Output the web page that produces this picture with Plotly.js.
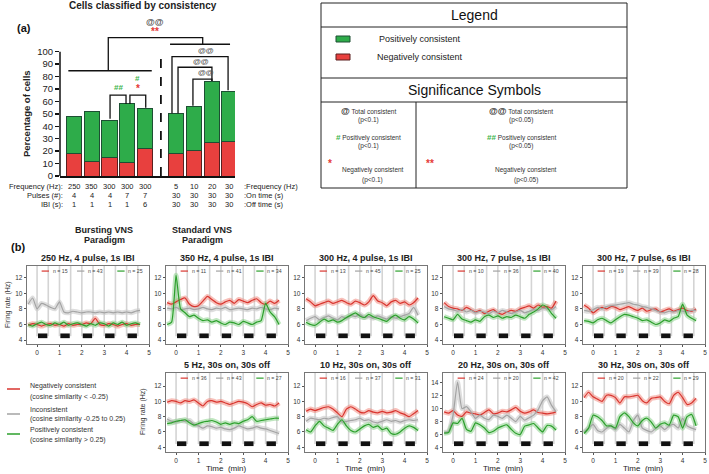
<!DOCTYPE html>
<html>
<head>
<meta charset="utf-8">
<script src="https://cdn.plot.ly/plotly-3.0.1.min.js"></script>
<style>
  body { margin: 0; background: #fff; }
  #chart { width: 709px; height: 474px; }
</style>
</head>
<body>
<div id="chart"></div>
<script>
const W = 709, H = 474;
const FONT = "Liberation Sans, Arial, sans-serif";

// ---- panel (a): cells classified by consistency ----
const freqHz = [250, 350, 300, 300, 300, 5, 10, 20, 30];
const pulsesOn = [4, 4, 4, 7, 7, 30, 30, 30, 30];
const ibiOff = [1, 1, 1, 1, 6, 30, 30, 30, 30];
const negPct = [18, 12, 15, 11, 22, 18.5, 20.5, 27, 28];
const posPct = [30, 40, 30, 47, 32, 31.5, 35.5, 49, 40];

// ---- panel (b): firing rate traces ----
const timeMin = [-0.4, -0.2, 0, 0.2, 0.4, 0.6, 0.8, 1.0, 1.2, 1.4, 1.6, 1.8, 2.0, 2.2, 2.4, 2.6, 2.8, 3.0, 3.2, 3.4, 3.6, 3.8, 4.0, 4.2, 4.4, 4.6];
const stimOn = [0, 1, 2, 3, 4];
const stimOff = [0.5, 1.5, 2.5, 3.5, 4.5];
const tickMin = [0, 1, 2, 3, 4, 5];

const panelTitles = ["250 Hz, 4 pulse, 1s IBI", "350 Hz, 4 pulse, 1s IBI", "300 Hz, 4 pulse, 1s IBI",
  "300 Hz, 7 pulse, 1s IBI", "300 Hz, 7 pulse, 6s IBI", "5 Hz, 30s on, 30s off",
  "10 Hz, 30s on, 30s off", "20 Hz, 30s on, 30s off", "30 Hz, 30s on, 30s off"];
const nNeg = [15, 11, 13, 10, 19, 36, 16, 24, 20];
const nInc = [43, 41, 45, 36, 39, 43, 37, 20, 22];
const nPos = [25, 34, 25, 40, 28, 27, 31, 42, 29];

const neg250 = [5.9, 6.1, 6.0, 5.8, 6.0, 6.1, 5.9, 6.0, 5.8, 6.1, 5.9, 6.0, 6.0, 6.2, 6.1, 6.8, 6.0, 5.9, 6.1, 6.0, 5.8, 6.0, 6.1, 5.9, 6.0, 6.0];
const inc250 = [8.6, 9.4, 8.0, 8.7, 8.5, 8.2, 8.0, 8.9, 7.6, 7.5, 7.7, 7.6, 7.5, 7.6, 7.6, 7.5, 7.6, 7.5, 7.6, 7.5, 7.6, 7.5, 7.6, 7.5, 7.7, 7.8];
const pos250 = [6.0, 5.8, 6.1, 6.3, 6.0, 5.9, 6.2, 6.0, 6.3, 5.9, 6.1, 6.2, 6.0, 5.8, 6.1, 5.9, 6.2, 6.1, 5.8, 6.2, 6.0, 6.3, 5.9, 6.1, 6.2, 6.0];

const neg350 = [8.8, 8.6, 8.9, 9.2, 9.4, 8.6, 8.3, 8.4, 9.0, 9.6, 9.2, 8.8, 8.6, 8.9, 9.1, 8.7, 9.2, 9.0, 8.8, 9.1, 9.3, 8.8, 8.6, 9.0, 8.7, 9.1];
const inc350 = [8.1, 8.0, 8.2, 7.9, 8.0, 8.1, 7.9, 8.0, 8.2, 8.0, 7.9, 8.1, 8.0, 8.2, 7.9, 8.0, 8.1, 8.0, 7.9, 8.1, 8.0, 8.2, 8.0, 7.9, 8.1, 8.0];
const pos350 = [6.0, 6.3, 12.3, 8.0, 7.5, 7.0, 7.2, 6.8, 6.5, 6.6, 6.3, 6.5, 6.2, 6.0, 6.3, 6.2, 6.0, 6.4, 6.2, 6.0, 6.3, 6.5, 8.7, 7.6, 7.0, 6.0];

const neg300a = [9.3, 8.9, 8.4, 8.6, 8.8, 9.0, 8.7, 8.9, 9.1, 8.8, 8.6, 9.0, 8.8, 8.5, 8.9, 9.7, 9.0, 8.8, 8.4, 8.9, 9.1, 8.7, 8.9, 8.5, 8.8, 9.4];
const inc300a = [6.5, 6.8, 7.0, 6.6, 6.9, 7.1, 6.8, 6.6, 7.0, 6.8, 7.2, 7.0, 7.3, 6.9, 7.0, 6.8, 7.1, 6.9, 6.7, 7.0, 6.8, 7.0, 7.2, 7.4, 8.2, 7.2];
const pos300a = [6.3, 6.0, 5.9, 6.3, 6.7, 6.4, 6.6, 6.3, 6.5, 6.9, 7.2, 7.5, 7.1, 6.9, 7.3, 7.0, 6.8, 6.6, 6.4, 6.9, 7.2, 6.8, 6.6, 7.0, 6.7, 6.2];

const neg300b = [8.8, 8.3, 8.1, 8.0, 7.8, 8.2, 7.9, 7.6, 7.8, 7.4, 7.7, 7.9, 7.5, 7.3, 7.6, 7.8, 7.7, 8.0, 8.2, 8.4, 8.1, 8.5, 8.2, 8.3, 8.1, 9.0];
const inc300b = [8.3, 8.0, 7.9, 7.7, 7.9, 7.6, 7.8, 7.5, 7.7, 7.6, 7.4, 7.7, 7.5, 7.8, 7.6, 7.4, 7.6, 7.8, 7.5, 7.7, 7.9, 7.8, 8.1, 8.0, 7.9, 8.3];
const pos300b = [7.0, 6.8, 6.6, 7.3, 6.7, 6.5, 6.3, 6.6, 6.4, 7.0, 7.2, 6.9, 7.1, 6.8, 7.0, 6.9, 7.2, 7.0, 6.8, 7.3, 7.6, 8.0, 8.5, 8.2, 7.4, 6.8];

const neg300c = [8.5, 8.1, 7.5, 7.9, 8.2, 8.0, 8.3, 8.2, 7.9, 8.1, 8.3, 8.0, 7.8, 8.1, 7.7, 7.9, 8.0, 7.6, 7.8, 8.0, 7.7, 7.9, 8.1, 7.8, 7.7, 8.0];
const inc300c = [7.8, 7.7, 7.9, 8.2, 8.0, 8.3, 8.4, 8.5, 8.6, 8.7, 8.8, 8.6, 8.5, 8.3, 8.2, 8.0, 7.8, 7.6, 7.5, 7.7, 7.6, 7.8, 7.7, 7.6, 7.8, 7.8];
const pos300c = [6.5, 6.4, 6.2, 6.6, 6.8, 6.5, 6.2, 6.6, 7.0, 7.3, 7.2, 7.0, 6.8, 6.5, 6.6, 6.3, 6.0, 6.2, 6.6, 6.4, 6.8, 7.0, 8.6, 7.2, 6.8, 6.5];

const neg5 = [9.9, 10.1, 10.0, 9.8, 10.1, 10.0, 10.2, 9.8, 9.4, 10.0, 10.1, 9.9, 10.0, 9.8, 9.6, 9.8, 10.0, 9.9, 9.7, 9.3, 9.6, 9.8, 9.5, 9.6, 9.4, 9.8];
const inc5 = [7.7, 7.4, 7.3, 7.5, 7.4, 7.5, 7.0, 6.8, 6.5, 6.8, 6.7, 6.5, 6.6, 6.4, 6.3, 6.5, 6.8, 6.6, 6.4, 6.5, 6.7, 6.5, 6.4, 6.2, 6.0, 5.8];
const pos5 = [7.1, 7.2, 7.4, 7.5, 7.6, 7.2, 6.9, 7.1, 7.3, 7.4, 7.5, 7.3, 7.0, 7.2, 7.0, 7.2, 7.1, 7.4, 7.6, 8.0, 7.4, 7.5, 7.6, 7.7, 7.8, 7.8];

const neg10 = [8.7, 9.0, 8.8, 9.0, 9.2, 9.3, 9.0, 8.5, 8.0, 9.0, 9.3, 9.0, 8.6, 8.5, 8.8, 8.6, 8.5, 8.7, 8.5, 8.6, 8.8, 8.5, 8.3, 8.0, 8.4, 8.8];
const inc10 = [7.4, 7.8, 7.7, 7.6, 7.8, 7.7, 7.9, 8.0, 7.3, 7.4, 7.5, 7.6, 7.8, 7.5, 7.6, 7.3, 7.2, 7.4, 7.6, 7.4, 7.5, 7.3, 7.5, 7.6, 7.5, 7.6];
const pos10 = [6.3, 6.0, 6.8, 7.4, 6.8, 6.5, 6.2, 7.0, 7.6, 6.8, 6.2, 6.0, 6.4, 6.8, 7.0, 6.6, 6.8, 6.3, 6.5, 5.8, 5.7, 6.0, 6.5, 6.8, 6.6, 6.2];

const neg20 = [9.5, 9.3, 9.7, 9.0, 8.8, 9.5, 9.3, 9.2, 9.0, 9.4, 9.8, 9.2, 9.3, 9.6, 9.5, 9.8, 10.2, 9.6, 9.3, 9.5, 9.8, 9.4, 9.3, 9.2, 9.3, 9.5];
const inc20 = [6.3, 6.5, 9.0, 14.1, 10.0, 10.3, 9.5, 8.5, 9.0, 8.5, 8.3, 9.0, 8.8, 8.5, 9.0, 8.5, 8.0, 8.8, 8.2, 8.6, 9.0, 9.8, 11.2, 11.8, 10.5, 9.5];
const pos20 = [6.2, 6.3, 7.8, 7.7, 8.5, 6.8, 6.5, 7.8, 7.5, 7.0, 6.3, 6.5, 7.0, 7.3, 7.5, 6.8, 6.2, 6.0, 7.3, 7.5, 7.7, 7.0, 6.4, 7.4, 7.3, 6.7];

const neg30 = [10.5, 11.2, 10.6, 10.3, 10.0, 10.8, 10.8, 10.5, 9.8, 10.6, 10.6, 10.7, 10.8, 10.1, 9.8, 10.4, 10.5, 10.6, 10.0, 9.7, 10.8, 11.2, 10.5, 9.6, 9.8, 10.4];
const inc30 = [6.0, 6.5, 7.0, 6.2, 6.0, 6.5, 6.8, 6.3, 7.0, 6.5, 6.0, 7.5, 8.2, 6.5, 6.2, 6.0, 6.5, 6.8, 6.3, 6.8, 7.0, 6.5, 7.8, 6.8, 6.5, 6.3];
const pos30 = [5.8, 6.5, 8.2, 8.0, 7.5, 6.8, 6.8, 6.5, 8.0, 8.5, 8.0, 7.2, 6.8, 7.5, 7.8, 7.3, 6.5, 7.0, 7.2, 6.9, 8.2, 8.0, 6.5, 8.0, 8.3, 6.8];

const negSeries = [neg250, neg350, neg300a, neg300b, neg300c, neg5, neg10, neg20, neg30];
const incSeries = [inc250, inc350, inc300a, inc300b, inc300c, inc5, inc10, inc20, inc30];
const posSeries = [pos250, pos350, pos300a, pos300b, pos300c, pos5, pos10, pos20, pos30];

// ---- colours ----
const RED = "#d9352f", GRAY = "#a3a3a3", GREEN = "#2ca02c";
const RED_BAND = "rgba(240,140,130,0.55)", GRAY_BAND = "rgba(200,200,200,0.6)", GREEN_BAND = "rgba(140,210,140,0.55)";
const BAR_GREEN = "#2eac4a", BAR_RED = "#e8403e";

// pixel -> paper helpers
function fx(p) { return p / W; }
function fy(p) { return 1 - p / H; }

var traces = [];
var shapes = [];
var annotations = [];

function note(text, x, y, opts) {
    var a = Object.assign({
        text: text, x: fx(x), y: fy(y), xref: "paper", yref: "paper",
        showarrow: false, xanchor: "center", yanchor: "middle",
        font: { size: 8, color: "#222", family: FONT }
    }, opts || {});
    annotations.push(a);
}
function pxLine(x0, y0, x1, y1, color, width, dash) {
    shapes.push({
        type: "line", xref: "paper", yref: "paper",
        x0: fx(x0), y0: fy(y0), x1: fx(x1), y1: fy(y1),
        line: { color: color || "#222", width: width || 1, dash: dash || "solid" }
    });
}
function pxRect(x0, y0, x1, y1, fill, edge) {
    shapes.push({
        type: "rect", xref: "paper", yref: "paper",
        x0: fx(x0), y0: fy(y0), x1: fx(x1), y1: fy(y1),
        fillcolor: fill || "rgba(0,0,0,0)", line: { color: edge || "#222", width: 1 }
    });
}

// ================= panel (a) =================
// bursting and standard groups are separated by a gap
const barX = freqHz.map((f, i) => i + (i >= 5 ? 0.75 : 0));

traces.push({
    type: "bar", x: barX, y: negPct, width: 0.85, xaxis: "x", yaxis: "y",
    marker: { color: BAR_RED, line: { color: "#5a1f1f", width: 1 } },
    hoverinfo: "skip"
});
traces.push({
    type: "bar", x: barX, y: posPct, width: 0.85, xaxis: "x", yaxis: "y",
    marker: { color: BAR_GREEN, line: { color: "#1d4f33", width: 1 } },
    hoverinfo: "skip"
});

// y axis line only up to 100 %
shapes.push({ type: "line", xref: "x domain", yref: "y", x0: 0, x1: 0, y0: 0, y1: 100, line: { color: "#111", width: 1.5 } });
// dashed separator between paradigms
var sepX = (barX[4] + barX[5]) / 2 + 0.02;
shapes.push({ type: "line", xref: "x", yref: "y", x0: sepX, x1: sepX, y0: 0, y1: 100, line: { color: "#111", width: 1.8, dash: "dash" } });

function bracket(x0, x1, yTop, yLeft, yRight) {
    shapes.push({
        type: "path", xref: "x", yref: "y",
        path: "M " + x0 + "," + yLeft + " L " + x0 + "," + yTop + " L " + x1 + "," + yTop + " L " + x1 + "," + yRight,
        line: { color: "#111", width: 1.3 }
    });
}
function sym(text, x, y, color, size) {
    annotations.push({
        text: "<b>" + text + "</b>", x: x, y: y, xref: "x", yref: "y", showarrow: false,
        font: { size: size || 9, color: color, family: FONT }
    });
}

// bursting brackets
bracket(barX[2] + 0.03, barX[3] - 0.07, 65, 46, 58);
bracket(barX[3] + 0.15, barX[4] + 0.04, 65, 58, 55);
sym("##", (barX[2] + barX[3]) / 2, 71.5, "#3cb44b", 8);
sym("#", barX[3] + 0.6, 78.5, "#3cb44b", 8);
sym("*", barX[3] + 0.6, 70, "#e53935", 10);
// standard brackets
bracket(barX[5] - 0.23, barX[8] - 0.07, 96, 50.5, 69);
bracket(barX[5] + 0.11, barX[7] + 0.02, 87.5, 50.5, 76.5);
bracket(barX[6] - 0.05, barX[7] + 0.02, 78, 56.5, 76.5);
sym("@@", barX[7] - 0.3, 101, "#555", 8);
sym("@@", barX[7] - 0.6, 92.5, "#555", 8);
sym("@@", barX[7] - 0.3, 83.5, "#555", 8);
// bursting vs standard bracket
shapes.push({ type: "line", xref: "x", yref: "y", x0: -0.32, x1: 4.38, y0: 84.7, y1: 84.7, line: { color: "#111", width: 1.3 } });
shapes.push({ type: "line", xref: "x", yref: "y", x0: 5.41, x1: 8.79, y0: 106, y1: 106, line: { color: "#111", width: 1.3 } });
bracket(1.93, 7.25, 111.3, 84.7, 106);
sym("@@", 4.58, 124, "#555", 9);
sym("**", 4.58, 116, "#e53935", 10);

// category rows under bars
var rowFont = { size: 7.5, color: "#222", family: FONT };
var rowY = [186, 195, 204];
for (var i = 0; i < barX.length; i++) {
    [freqHz[i], pulsesOn[i], ibiOff[i]].forEach(function (v, r) {
        annotations.push({ text: String(v), x: barX[i], xref: "x", y: fy(rowY[r]), yref: "paper", showarrow: false, borderpad: 0, font: rowFont });
    });
}
["Frequency (Hz):", "Pulses (#):", "IBI (s):"].forEach(function (t, r) {
    note(t, 64, rowY[r], { xanchor: "right", borderpad: 0, font: rowFont });
});
[":Frequency (Hz)", ":On time (s)", ":Off time (s)"].forEach(function (t, r) {
    note(t, 243, rowY[r], { xanchor: "left", borderpad: 0, font: rowFont });
});
note("<b>Bursting VNS</b>", 104, 230, { font: { size: 9, color: "#222", family: FONT } });
note("<b>Paradigm</b>", 104, 240, { font: { size: 9, color: "#222", family: FONT } });
note("<b>Standard VNS</b>", 202, 230, { font: { size: 9, color: "#222", family: FONT } });
note("<b>Paradigm</b>", 202, 240, { font: { size: 9, color: "#222", family: FONT } });

note("<b>Cells classified by consistency</b>", 143, 6, { font: { size: 10, color: "#222", family: FONT } });
note("<b>(a)</b>", 24, 28, { font: { size: 11, color: "#111", family: FONT } });
note("<b>Percentage of cells</b>", 27, 114, { textangle: -90, font: { size: 9.5, color: "#222", family: FONT } });

// ---- legend box ----
pxRect(321, 3, 627, 188);
pxLine(321, 27, 627, 27);
pxLine(321, 78, 627, 78);
pxLine(321, 102, 627, 102);
pxLine(416, 102, 416, 188);
note("Legend", 474, 15, { font: { size: 14, color: "#111", family: FONT } });
pxRect(336, 36, 350, 42, BAR_GREEN, "#1d4f33");
pxRect(336, 54, 350, 60, BAR_RED, "#5a1f1f");
note("Positively consistent", 420, 39, { font: { size: 9, color: "#222", family: FONT } });
note("Negatively consistent", 420, 57, { font: { size: 9, color: "#222", family: FONT } });
note("Significance Symbols", 474, 90, { font: { size: 14, color: "#111", family: FONT } });

var sm = { size: 6.5, color: "#333", family: FONT };
note("<span style='font-size:9px'><b>@</b></span> Total consistent", 368, 111, { font: sm });
note("(p<0.1)", 368, 120, { font: sm });
note("<span style='font-size:8px;color:#3cb44b'><b>#</b></span> Positively consistent", 368, 137, { font: sm });
note("(p<0.1)", 368, 146, { font: sm });
note("<b>*</b>", 330, 163, { font: { size: 10, color: "#e53935", family: FONT } });
note("Negatively consistent", 373, 170, { font: sm });
note("(p<0.1)", 373, 180, { font: sm });

note("<span style='font-size:9px'><b>@@</b></span> Total consistent", 521, 111, { font: sm });
note("(p<0.05)", 521, 120, { font: sm });
note("<span style='font-size:8px;color:#3cb44b'><b>##</b></span> Positively consistent", 521, 137, { font: sm });
note("(p<0.05)", 521, 146, { font: sm });
note("<b>**</b>", 430, 163, { font: { size: 10, color: "#e53935", family: FONT } });
note("Negatively consistent", 526, 170, { font: sm });
note("(p<0.05)", 526, 180, { font: sm });

// ================= panel (b) =================
note("<b>(b)</b>", 18, 247, { font: { size: 11, color: "#111", family: FONT } });

const colLeft = [27, 166, 305, 443, 583];
const panelW = 122;
const rowTop = [266, 373], rowBottom = [344, 452];
const rowRange = [[3.5, 13.5], [3.38, 13.72]];
const panelCell = [[0, 0], [0, 1], [0, 2], [0, 3], [0, 4], [1, 1], [1, 2], [1, 3], [1, 4]];

var layout = {
    width: W, height: H,
    margin: { l: 0, r: 0, t: 0, b: 0 },
    paper_bgcolor: "#fff", plot_bgcolor: "rgba(0,0,0,0)",
    showlegend: false,
    barmode: "stack",
    font: { family: FONT, color: "#222" },
    xaxis: {
        domain: [fx(60), fx(235)], range: [-0.79, 9.07],
        showline: true, linewidth: 1.5, linecolor: "#111",
        showticklabels: false, ticks: "", showgrid: false, zeroline: false, fixedrange: true
    },
    yaxis: {
        domain: [fy(176), fy(2)], range: [0, 140],
        tickvals: [0, 10, 20, 30, 40, 50, 60, 70, 80, 90, 100],
        ticks: "outside", ticklen: 4, tickwidth: 1.3, tickcolor: "#111",
        tickfont: { size: 9.5, color: "#222" },
        showgrid: false, zeroline: false, showline: false, fixedrange: true
    }
};

for (var p = 0; p < 9; p++) {
    var k = p + 2;
    var xa = "x" + k, ya = "y" + k;
    var row = panelCell[p][0], col = panelCell[p][1];
    var left = colLeft[col];
    var yr = rowRange[row];
    var yt = [4, 6, 8, 10, 12];
    if (p === 7) { yr = [3.3, 15.5]; yt = [4, 6, 8, 10, 12, 14]; }

    layout["xaxis" + k] = {
        domain: [fx(left), fx(left + panelW)], range: [-0.45, 5.0], anchor: ya,
        tickvals: tickMin, ticks: "outside", ticklen: 2.5, tickcolor: "#555",
        tickfont: { size: 6.5, color: "#333" },
        showline: true, mirror: true, linecolor: "#555", linewidth: 0.8,
        showgrid: false, zeroline: false, fixedrange: true
    };
    layout["yaxis" + k] = {
        domain: [fy(rowBottom[row]), fy(rowTop[row])], range: yr, anchor: xa,
        tickvals: yt, ticks: "outside", ticklen: 2.5, tickcolor: "#555",
        tickfont: { size: 6.5, color: "#333" },
        showline: true, mirror: true, linecolor: "#555", linewidth: 0.8,
        showgrid: false, zeroline: false, fixedrange: true
    };

    // stimulation on/off markers and bars
    var edges = stimOn.concat(stimOff);
    for (var e = 0; e < edges.length; e++) {
        shapes.push({
            type: "line", layer: "below", xref: xa, yref: ya + " domain",
            x0: edges[e], x1: edges[e], y0: 0.1, y1: 1,
            line: { color: "#d4d4d4", width: 1.6 }
        });
    }
    for (var s = 0; s < stimOn.length; s++) {
        shapes.push({
            type: "rect", xref: xa, yref: ya + " domain",
            x0: stimOn[s] + 0.04, x1: stimOff[s] - 0.04, y0: 0.075, y1: 0.135,
            fillcolor: "#111", line: { width: 0 }
        });
    }

    var series = [
        { y: negSeries[p], c: RED, band: RED_BAND, n: nNeg[p] },
        { y: incSeries[p], c: GRAY, band: GRAY_BAND, n: nInc[p] },
        { y: posSeries[p], c: GREEN, band: GREEN_BAND, n: nPos[p] }
    ];
    series.forEach(function (sr) {
        traces.push({
            type: "scatter", mode: "lines", x: timeMin, y: sr.y, xaxis: xa, yaxis: ya,
            line: { color: sr.band, width: 5, shape: "spline", smoothing: 0.5 }, hoverinfo: "skip"
        });
    });
    series.forEach(function (sr, j) {
        traces.push({
            type: "scatter", mode: "lines", x: timeMin, y: sr.y, xaxis: xa, yaxis: ya,
            line: { color: sr.c, width: 1.2, shape: "spline", smoothing: 0.5 }, hoverinfo: "skip"
        });
        // small in-panel legend
        var lx = [0.12, 0.41, 0.74][j];
        shapes.push({
            type: "line", xref: xa + " domain", yref: ya + " domain",
            x0: lx, x1: lx + 0.06, y0: 0.935, y1: 0.935, line: { color: sr.c, width: 1.2 }
        });
        annotations.push({
            text: "n = " + sr.n, xref: xa + " domain", yref: ya + " domain",
            x: lx + 0.075, y: 0.935, xanchor: "left", yanchor: "middle", showarrow: false,
            font: { size: 5.2, color: "#444", family: FONT }
        });
    });

    // panel title
    annotations.push({
        text: "<b>" + panelTitles[p] + "</b>", xref: xa + " domain", yref: ya + " domain",
        x: 0.5, y: 1, yanchor: "bottom", yshift: 1, showarrow: false,
        font: { size: 9, color: "#222", family: FONT }
    });
    if (row === 1) {
        note("Time  (min)", left + 10 + 2.25 * 22.4, 468, { font: { size: 8, color: "#222", family: FONT } });
    }
}
note("Firing rate (Hz)", 8, 305, { textangle: -90, font: { size: 7, color: "#333", family: FONT } });
note("Firing rate (Hz)", 143, 412, { textangle: -90, font: { size: 7, color: "#333", family: FONT } });

// panel (b) class legend
var clsText = [
    ["Negatively consistent", "(cosine similarity < -0.25)", RED, 389, 386, 397],
    ["Inconsistent", "(cosine similarity -0.25 to 0.25)", GRAY, 414, 409, 419],
    ["Positively consistent", "(cosine similarity > 0.25)", GREEN, 434, 430, 440]
];
clsText.forEach(function (c) {
    pxLine(7, c[3], 20, c[3], c[2], 1.5);
    note(c[0], 28, c[4], { xanchor: "left", font: { size: 7, color: "#333", family: FONT } });
    note(c[1], 28, c[5], { xanchor: "left", font: { size: 7, color: "#333", family: FONT } });
});

layout.shapes = shapes;
layout.annotations = annotations;

Plotly.newPlot("chart", traces, layout, { displayModeBar: false, staticPlot: true });
</script>
</body>
</html>
